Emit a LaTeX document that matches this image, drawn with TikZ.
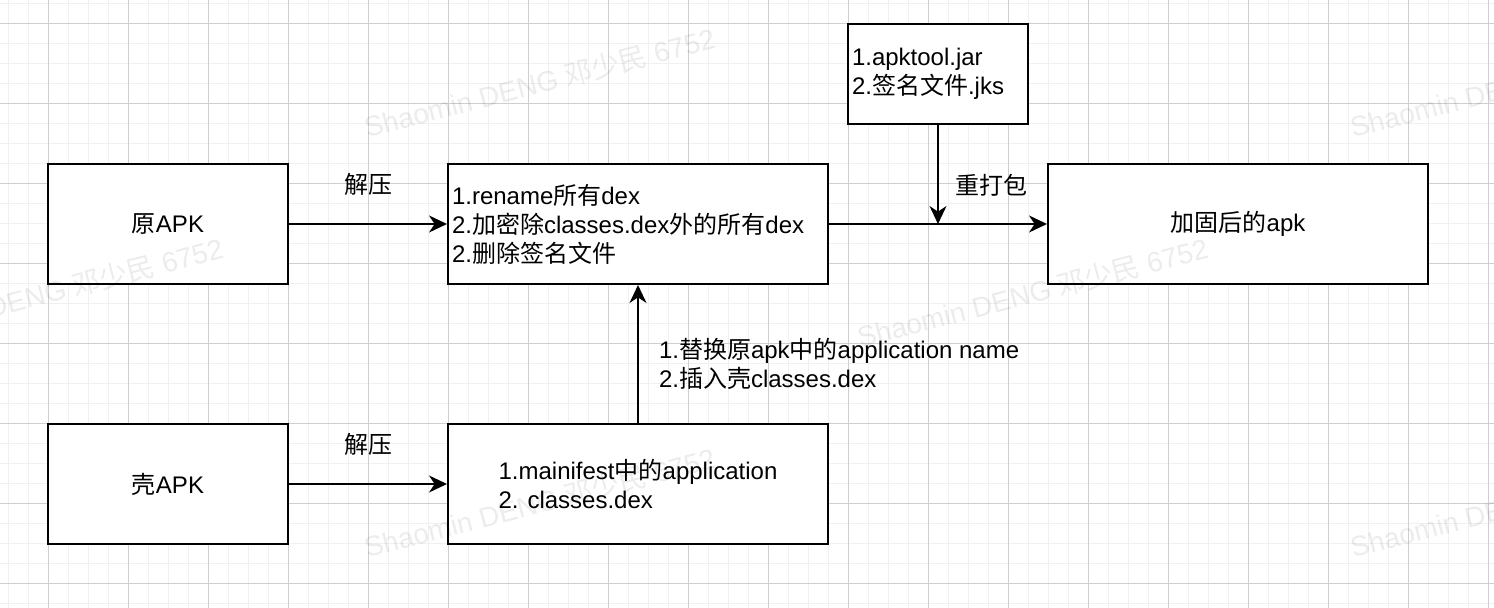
\documentclass[tikz,border=0pt]{standalone}
\usepackage{fontspec}
\setmainfont{Liberation Sans}
\newfontfamily\cjkfont{Noto Sans CJK SC}
\newcommand{\zh}[1]{{\cjkfont #1}}
\usetikzlibrary{arrows.meta, positioning}

\begin{document}
\begin{tikzpicture}[x=0.5pt,y=-0.5pt,on grid,>={Stealth[length=9pt,width=8.5pt,inset=2.8pt]},
		font=\fontsize{12}{14.5}\selectfont,
		box/.style={draw, line width=1pt, fill=white, minimum width=120pt, minimum height=60pt, inner sep=2pt},
		wide/.style={minimum width=190pt},
		flow/.style={->, line width=1pt},
		minorline/.style={black!6, line width=0.5pt},
		majorline/.style={black!19, line width=0.5pt},
		wmark/.style={anchor=base west, rotate=14.5, inner sep=0pt, font=\fontsize{14}{16}\selectfont, text=black, text opacity=0.075}]
		
		\fill [white] (0,0) rectangle (1494,608);
		\useasboundingbox (0,0) rectangle (1494,608);
		
		% grid
		\foreach \gx in {8,28,...,1488} \draw [minorline] (\gx,0) -- (\gx,608);
		\foreach \gy in {4,24,...,604} \draw [minorline] (0,\gy) -- (1494,\gy);
		\foreach \gx in {48,128,...,1488} \draw [majorline] (\gx,0) -- (\gx,608);
		\foreach \gy in {24,104,...,584} \draw [majorline] (0,\gy) -- (1494,\gy);
		
		\node (orig) [box] at (168,224) {\zh{原}APK};
		\node (strip) [box, wide, right=235pt of orig, text width=186pt, align=left] {1.rename\zh{所有}dex\\2.\zh{加密除}classes.dex\zh{外的所有}dex\\2.\zh{删除签名文件}};
		\node (tools) [box, minimum width=90pt, minimum height=50pt, text width=86pt, align=left, above right=75pt and 150pt of strip] {1.apktool.jar\\2.\zh{签名文件}.jks};
		\node (result) [box, wide, right=300pt of strip] {\zh{加固后的}apk};
		\node (shell) [box, below=130pt of orig] {\zh{壳}APK};
		\node (shellinfo) [box, wide, right=235pt of shell, align=left] {1.mainifest\zh{中的}application\\2. classes.dex};
		\coordinate (join) at (tools.south |- strip.east);
		
		\draw [flow] (orig) -- node [yshift=20pt] {\zh{解压}} (strip);
		\draw [flow] (shell) -- node [yshift=20pt] {\zh{解压}} (shellinfo);
		\draw [flow] (shellinfo) -- node [pos=0.43, anchor=west, inner sep=0pt, xshift=10pt, align=left] {1.\zh{替换原}apk\zh{中的}application name\\2.\zh{插入壳}classes.dex} (strip);
		\draw [flow] (tools) -- node [pos=0.61, anchor=west, inner sep=0pt, xshift=8pt] {\zh{重打包}} (join);
		\draw [flow] (strip) -- (result);
		
		% watermark
		\foreach \wx/\wy [count=\i] in {367/138,1353/138,-125/348,860/348,367/558,1353/558}
			\node (wm\i) [wmark] at (\wx,\wy) {Shaomin DENG \zh{邓少民} 6752};
		
	\end{tikzpicture}
\end{document}
